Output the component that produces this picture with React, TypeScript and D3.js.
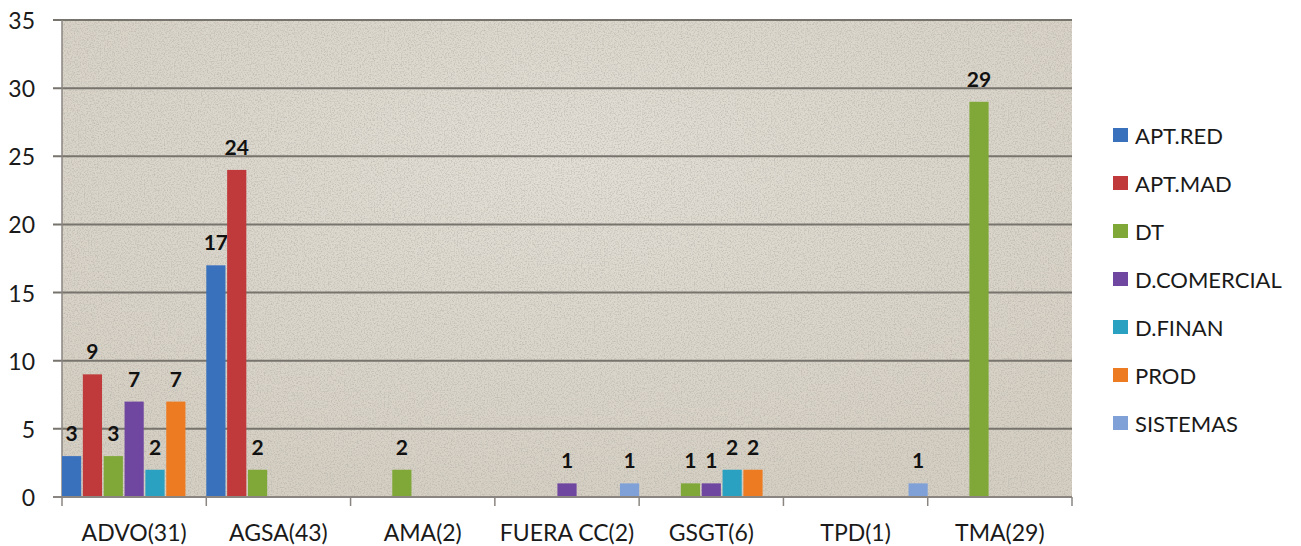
import React, { useEffect, useRef } from 'react';
import * as d3 from 'd3';

const CATEGORIES = ['ADVO(31)', 'AGSA(43)', 'AMA(2)', 'FUERA CC(2)', 'GSGT(6)', 'TPD(1)', 'TMA(29)'];
const SERIES = ['APT.RED', 'APT.MAD', 'DT', 'D.COMERCIAL', 'D.FINAN', 'PROD', 'SISTEMAS'];
const COLORS = ['#3a71bd', '#c03a3b', '#7fa838', '#7047a0', '#2aa1c0', '#ed7b22', '#7fa1d8'];

// values per series, in category order
const APT_RED = [3, 17, 0, 0, 0, 0, 0];
const APT_MAD = [9, 24, 0, 0, 0, 0, 0];
const DT = [3, 2, 2, 0, 1, 0, 29];
const D_COMERCIAL = [7, 0, 0, 1, 1, 0, 0];
const D_FINAN = [2, 0, 0, 0, 2, 0, 0];
const PROD = [7, 0, 0, 0, 2, 0, 0];
const SISTEMAS = [0, 0, 0, 1, 0, 1, 0];
const VALUES = [APT_RED, APT_MAD, DT, D_COMERCIAL, D_FINAN, PROD, SISTEMAS];

const Y_TICKS = [0, 5, 10, 15, 20, 25, 30, 35];

const FONT = 'Lato, "Open Sans", sans-serif';

const App: React.FC = () => {
  const svgRef = useRef<SVGSVGElement>(null);

  useEffect(() => {
    if (!svgRef.current) return;
    d3.select(svgRef.current).selectAll('*').remove();

    const W = 1301;
    const H = 546;
    const plot = { left: 62, right: 1072, top: 20, bottom: 497 };

    const svg = d3.select(svgRef.current).attr('width', W).attr('height', H);

    // paper texture
    const defs = svg.append('defs');
    const f = defs.append('filter').attr('id', 'noise').attr('x', 0).attr('y', 0).attr('width', '100%').attr('height', '100%');
    f.append('feTurbulence').attr('type', 'fractalNoise').attr('baseFrequency', 0.7).attr('numOctaves', 2).attr('seed', 5).attr('result', 't');
    f.append('feColorMatrix').attr('type', 'matrix')
      .attr('values', '0 0 0 0 0.42  0 0 0 0 0.40  0 0 0 0 0.36  0 0 0 -2.6 1.5');
    const rg = defs.append('radialGradient').attr('id', 'bgGrad').attr('cx', '50%').attr('cy', '30%').attr('r', '70%');
    rg.append('stop').attr('offset', '0%').attr('stop-color', '#e3dfd6');
    rg.append('stop').attr('offset', '100%').attr('stop-color', '#d6d0c4');

    svg.append('rect').attr('width', W).attr('height', H).attr('fill', '#ffffff');
    svg.append('rect')
      .attr('x', plot.left).attr('y', plot.top)
      .attr('width', plot.right - plot.left).attr('height', plot.bottom - plot.top)
      .attr('fill', 'url(#bgGrad)');
    svg.append('rect')
      .attr('x', plot.left).attr('y', plot.top)
      .attr('width', plot.right - plot.left).attr('height', plot.bottom - plot.top)
      .attr('filter', 'url(#noise)').attr('opacity', 0.55);

    const x = d3.scaleBand<string>().domain(CATEGORIES).range([plot.left, plot.right]).paddingInner(0).paddingOuter(0);
    const xs = d3.scaleBand<string>().domain(SERIES).range([0, x.bandwidth()]).paddingInner(0.08);
    const y = d3.scaleLinear().domain([0, 35]).range([plot.bottom, plot.top]);

    // gridlines
    svg.selectAll('.grid')
      .data(Y_TICKS.filter(d => d > 0))
      .enter()
      .append('line')
      .attr('x1', plot.left - 9).attr('x2', plot.right)
      .attr('y1', d => y(d)).attr('y2', d => y(d))
      .attr('stroke', '#77736d').attr('stroke-width', 2);

    // y axis
    svg.append('line')
      .attr('x1', plot.left).attr('x2', plot.left)
      .attr('y1', plot.top).attr('y2', plot.bottom)
      .attr('stroke', '#8a8580').attr('stroke-width', 1.5);

    svg.selectAll('.ylab')
      .data(Y_TICKS)
      .enter()
      .append('text')
      .attr('x', 35).attr('y', d => y(d))
      .attr('text-anchor', 'end').attr('dominant-baseline', 'central')
      .attr('font-family', FONT).attr('font-size', 23).attr('fill', '#1a1a1a')
      .text(d => d);

    // bars
    const groups = svg.selectAll('.grp')
      .data(CATEGORIES)
      .enter()
      .append('g')
      .attr('transform', d => `translate(${x(d)},0)`);

    groups.each(function (cat, ci) {
      const g = d3.select(this);
      SERIES.forEach((s, si) => {
        const v = VALUES[si][ci];
        if (!v) return;
        g.append('rect')
          .attr('x', xs(s)!)
          .attr('y', y(v))
          .attr('width', xs.bandwidth())
          .attr('height', y(0) - y(v))
          .attr('fill', COLORS[si]);
        g.append('text')
          .attr('x', xs(s)! + xs.bandwidth() / 2)
          .attr('y', y(v) - 15)
          .attr('text-anchor', 'middle')
          .attr('font-family', FONT).attr('font-weight', 'bold').attr('font-size', 21).attr('fill', '#111')
          .text(v);
      });
    });

    // x axis
    svg.append('line')
      .attr('x1', plot.left - 9).attr('x2', plot.right)
      .attr('y1', plot.bottom).attr('y2', plot.bottom)
      .attr('stroke', '#8a8580').attr('stroke-width', 2);

    svg.selectAll('.xtick')
      .data(CATEGORIES.concat(['__end']))
      .enter()
      .append('line')
      .attr('x1', (d, i) => plot.left + i * x.bandwidth())
      .attr('x2', (d, i) => plot.left + i * x.bandwidth())
      .attr('y1', plot.bottom).attr('y2', plot.bottom + 9)
      .attr('stroke', '#8a8580').attr('stroke-width', 1.5);

    svg.selectAll('.xlab')
      .data(CATEGORIES)
      .enter()
      .append('text')
      .attr('x', d => x(d)! + x.bandwidth() / 2)
      .attr('y', 532)
      .attr('text-anchor', 'middle').attr('dominant-baseline', 'central')
      .attr('font-family', FONT).attr('font-size', 23).attr('fill', '#1a1a1a')
      .text(d => d);

    // legend
    const legend = svg.append('g');
    SERIES.forEach((s, i) => {
      const ly = 135 + i * 48;
      legend.append('rect')
        .attr('x', 1113).attr('y', ly - 7)
        .attr('width', 15).attr('height', 14)
        .attr('fill', COLORS[i]);
      legend.append('text')
        .attr('x', 1135).attr('y', ly)
        .attr('dominant-baseline', 'central')
        .attr('font-family', FONT).attr('font-size', 22).attr('fill', '#1a1a1a')
        .text(s);
    });
  }, []);

  return (
    <div style={{ position: 'absolute', left: 0, top: 0 }}>
      <svg ref={svgRef} style={{ display: 'block' }}></svg>
    </div>
  );
};

export default App;
